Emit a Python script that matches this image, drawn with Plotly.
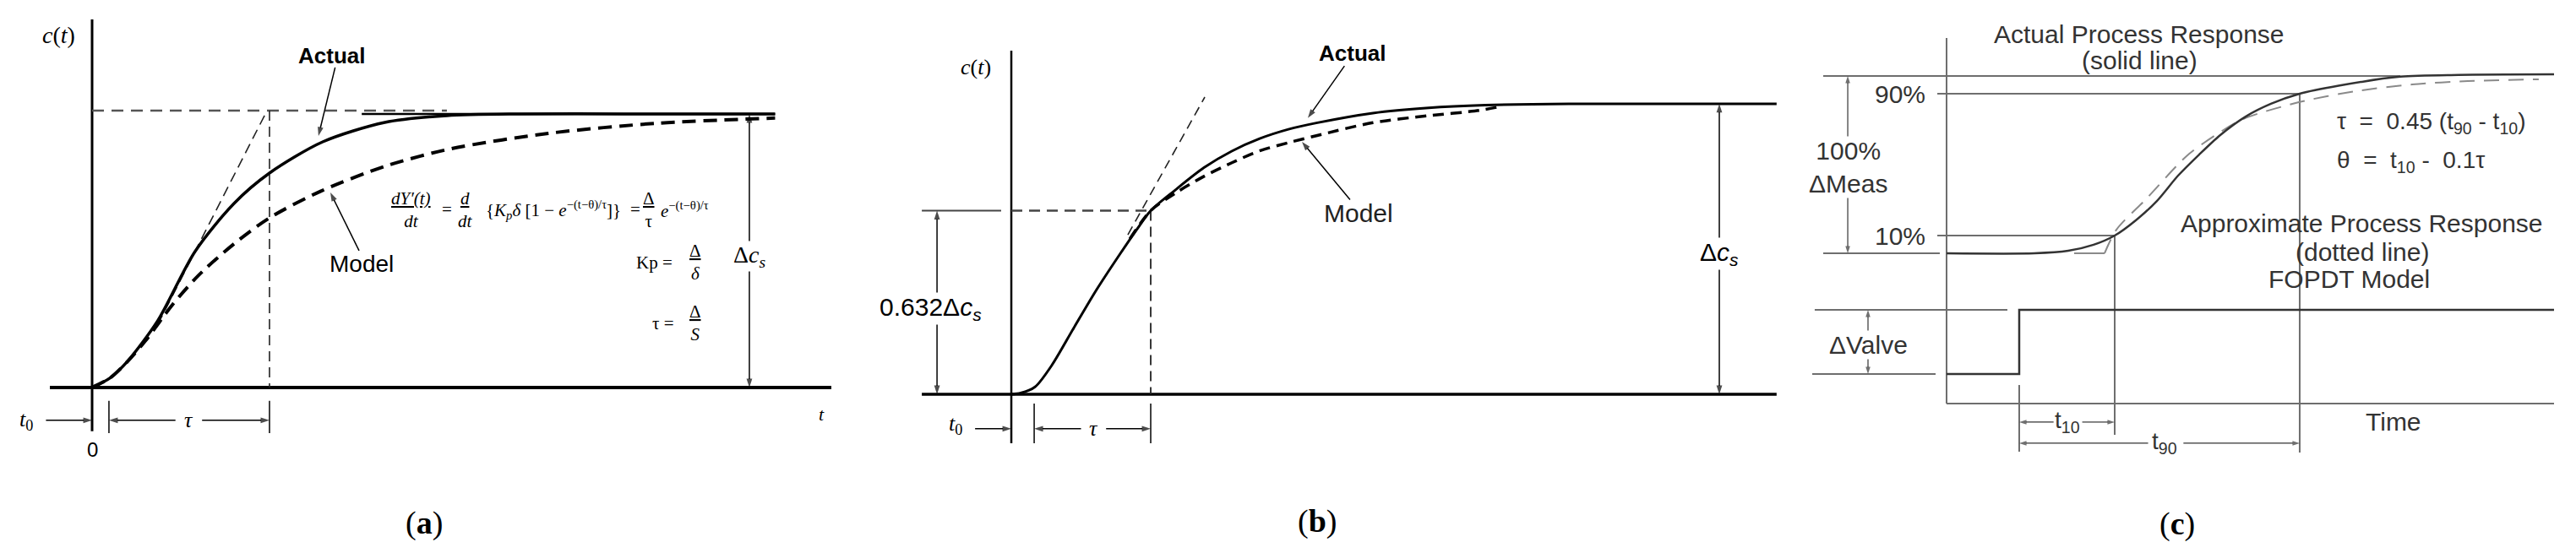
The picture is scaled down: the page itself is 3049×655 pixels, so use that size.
import plotly.graph_objects as go

# ---------------- (a) step response, actual vs model ----------------
a_t = [0, 0.1, 0.2, 0.37, 0.58, 0.8, 1.0, 1.3, 1.65, 2.0, 2.4, 3.0, 3.85]
a_actual = [0, 0.034, 0.096, 0.244, 0.497, 0.673, 0.784, 0.898, 0.969, 0.994, 1.0, 1.0, 1.0]
a_model_t = [0, 0.1, 0.2, 0.3, 0.45, 0.6, 0.8, 1.0, 1.29, 1.657, 2.024, 2.571, 3.181, 3.85]
a_model = [0, 0.034, 0.095, 0.17, 0.3, 0.41, 0.525, 0.62, 0.718, 0.81, 0.873, 0.929, 0.966, 0.985]
a_tangent_t = [0.37, 0.986]
a_tangent = [0.23, 1.012]
a_tau_start = 0.095   # left end of the tau marker
a_tau = 1.0

# ---------------- (b) 63.2 % method ----------------
b_t = [0, 0.067, 0.17, 0.291, 0.448, 0.612, 0.776, 0.9, 1.0, 1.176, 1.382, 1.582,
       1.782, 1.988, 2.188, 2.594, 2.994, 3.4, 4.0, 5.49]
b_actual = [0, 0.004, 0.025, 0.1, 0.228, 0.36, 0.48, 0.567, 0.632, 0.703, 0.78, 0.837,
            0.88, 0.912, 0.934, 0.968, 0.986, 0.995, 1.0, 1.0]
b_model_t = [0.85, 1.0, 1.176, 1.382, 1.582, 1.782, 1.988, 2.188, 2.594, 2.994, 3.358, 3.503]
b_model = [0.535, 0.632, 0.692, 0.750, 0.797, 0.838, 0.866, 0.890, 0.935, 0.959, 0.977, 0.99]
b_tangent_t = [0.836, 1.388]
b_tangent = [0.549, 1.023]
b_level = 0.632
b_tau_start = 0.164
b_tau = 1.0

# ---------------- (c) FOPDT from t10 / t90 ----------------
c_t = [-0.761, 0.159, 0.513, 0.779, 1.0, 1.221, 1.442, 1.664, 1.885, 2.106, 2.372,
       2.637, 2.938, 3.345, 3.99, 4.6, 5.602]
c_actual = [0, 0, 1.4, 4.8, 10, 18.6, 29.5, 43.8, 55.7, 66.7, 77.1, 84.3, 90, 94.5,
            99.6, 100.6, 100.9]
c_dead_t = [0.575, 0.894]          # flat dead-time part of the FOPDT model
c_model_t = [0.894, 1.018, 1.336, 1.752, 2.044, 2.345, 2.929, 3.522, 4.115, 4.699, 5.442]
c_model = [0, 13.3, 31.0, 54.8, 66.2, 75.7, 85.2, 91.4, 95.2, 97.1, 98.1]
valve_t = [-0.761, 0, 0, 5.602]
valve = [0, 0, 1, 1]
c_t10 = 1.0
c_t90 = 2.938
c_levels = [100, 90, 10, 0]

SANS = "Liberation Sans"
SERIF = "Liberation Serif"
GREY = "#6e6e6e"
DARK = "#333333"

fig = go.Figure()


def line(x, y, xa, ya, color="black", width=2, dash="solid", shape="linear"):
    fig.add_trace(go.Scatter(x=x, y=y, xaxis=xa, yaxis=ya, mode="lines",
                             line=dict(color=color, width=width, dash=dash, shape=shape,
                                       smoothing=0.8),
                             hoverinfo="skip", showlegend=False))


def label(text, x, y, xa, ya, size, family=SANS, color="black", bg=None, anchor="center"):
    fig.add_annotation(text=text, x=x, y=y, xref=xa, yref=ya, showarrow=False,
                       font=dict(family=family, size=size, color=color),
                       bgcolor=bg, xanchor=anchor, yanchor="middle", borderpad=0)


def arrow(x, y, tx, ty, xa, ya, color="black", width=1.5, head=11):
    # shaft from the tail (tx, ty) to the tip (x, y), head drawn as a marker at the tip
    fig.add_trace(go.Scatter(x=[tx, x], y=[ty, y], xaxis=xa, yaxis=ya, mode="lines+markers",
                             line=dict(color=color, width=width),
                             marker=dict(symbol="arrow", size=[0, head], color=color,
                                         angleref="previous", line=dict(width=0)),
                             hoverinfo="skip", showlegend=False))


def double_arrow(x, y0, y1, xa, ya, **kw):
    mid = (y0 + y1) / 2
    arrow(x, y0, x, mid, xa, ya, **kw)
    arrow(x, y1, x, mid, xa, ya, **kw)


# ===== panel (a) =====
line([0, 0], [1.346, -0.16], "x", "y", width=3)
line([-0.238, 4.167], [0, 0], "x", "y", width=4)
line([0, 2.0], [1.012, 1.012], "x", "y", color="#555", width=2.5, dash="14px,9px")
line(a_tangent_t, a_tangent, "x", "y", color="#222", width=1.6, dash="12px,7px")
line([a_tau, a_tau], [1.012, 0], "x", "y", color="#222", width=1.6, dash="12px,7px")
line([1.52, 3.85], [1, 1], "x", "y", width=2.5)
line(a_model_t, a_model, "x", "y", width=4, dash="16px,9px", shape="spline")
line(a_t, a_actual, "x", "y", width=3.5, shape="spline")
for xt in (a_tau_start, a_tau):
    line([xt, xt], [-0.049, -0.167], "x", "y", width=1.5)

label("<i>c</i>(<i>t</i>)", -0.19, 1.29, "x", "y", 28, SERIF)
label("<b>Actual</b>", 1.352, 1.213, "x", "y", 26)
arrow(1.276, 0.92, 1.37, 1.17, "x", "y")
label("Model", 1.519, 0.451, "x", "y", 28)
arrow(1.343, 0.713, 1.505, 0.50, "x", "y")
# derivative of the model response, written with stacked fractions
eq_y = 0.651
label("<i><u>dY′(t)</u></i><br><i>dt</i>", 1.80, eq_y, "x", "y", 21, SERIF)
label("=", 2.0, eq_y, "x", "y", 21, SERIF)
label("<i><u>d</u></i><br><i>dt</i>", 2.105, eq_y, "x", "y", 21, SERIF)
label("{<i>K<sub>p</sub>δ</i> [1 − <i>e</i><sup>−(t−θ)/τ</sup>]}", 2.6, eq_y, "x", "y", 21, SERIF)
label("=", 3.06, eq_y, "x", "y", 21, SERIF)
label("<u>Δ</u><br>τ", 3.14, eq_y, "x", "y", 21, SERIF)
label("<i>e</i><sup>−(t−θ)/τ</sup>", 3.34, eq_y, "x", "y", 21, SERIF)
label("Kp =", 3.17, 0.457, "x", "y", 21, SERIF)
label("<u>Δ</u><br><i>δ</i>", 3.4, 0.457, "x", "y", 21, SERIF)
label("τ =", 3.22, 0.235, "x", "y", 21, SERIF)
label("<u>Δ</u><br><i>S</i>", 3.4, 0.235, "x", "y", 21, SERIF)
double_arrow(3.705, 1.0, 0.0, "x", "y")
label("Δ<i>c<sub>s</sub></i>", 3.705, 0.481, "x", "y", 28, SERIF, bg="white")
label("<i>t</i>", 4.11, -0.096, "x", "y", 22, SERIF)
label("<i>t</i><sub>0</sub>", -0.37, -0.12, "x", "y", 26, SERIF)
arrow(0, -0.12, -0.26, -0.12, "x", "y")
label("<i>τ</i>", 0.543, -0.12, "x", "y", 26, SERIF)
arrow(a_tau_start, -0.12, 0.47, -0.12, "x", "y")
arrow(a_tau, -0.12, 0.62, -0.12, "x", "y")
label("0", 0, -0.228, "x", "y", 24)
label("(<b>a</b>)", 1.871, -0.497, "x", "y", 38, SERIF)

# ===== panel (b) =====
line([0, 0], [1.183, -0.169], "x2", "y2", width=2.5)
line([-0.642, 5.49], [0, 0], "x2", "y2", width=3.5)
line([-0.642, -0.073], [b_level, b_level], "x2", "y2", color="#444", width=2)
line([0, b_tau], [b_level, b_level], "x2", "y2", color="#444", width=2.5, dash="13px,8px")
line([b_tau, b_tau], [b_level, 0], "x2", "y2", color="#222", width=1.8, dash="12px,7px")
line(b_tangent_t, b_tangent, "x2", "y2", color="#222", width=1.6, dash="11px,7px")
line(b_model_t, b_model, "x2", "y2", width=3.5, dash="13px,8px", shape="spline")
line(b_t, b_actual, "x2", "y2", width=3, shape="spline")
for xt in (b_tau_start, b_tau):
    line([xt, xt], [-0.032, -0.169], "x2", "y2", width=1.5)

label("<i>c</i>(<i>t</i>)", -0.255, 1.125, "x2", "y2", 26, SERIF)
label("<b>Actual</b>", 2.448, 1.174, "x2", "y2", 26)
arrow(2.127, 0.951, 2.39, 1.13, "x2", "y2")
label("Model", 2.491, 0.622, "x2", "y2", 30, SANS, color="#222")
arrow(2.085, 0.869, 2.43, 0.67, "x2", "y2")
double_arrow(-0.533, b_level, 0, "x2", "y2")
label("0.632Δ<i>c<sub>s</sub></i>", -0.576, 0.294, "x2", "y2", 30, SANS, bg="white")
double_arrow(5.079, 1.0, 0.0, "x2", "y2")
label("Δ<i>c<sub>s</sub></i>", 5.079, 0.483, "x2", "y2", 30, SANS, bg="white")
label("<i>t</i><sub>0</sub>", -0.4, -0.105, "x2", "y2", 26, SERIF)
arrow(0, -0.119, -0.26, -0.119, "x2", "y2")
label("<i>τ</i>", 0.588, -0.119, "x2", "y2", 26, SERIF)
arrow(b_tau_start, -0.119, 0.5, -0.119, "x2", "y2")
arrow(b_tau, -0.119, 0.68, -0.119, "x2", "y2")
label("(<b>b</b>)", 2.194, -0.439, "x2", "y2", 38, SERIF)

# ===== panel (c) =====
line([-0.761, -0.761], [121.4, -84.8], "x3", "y3", color=GREY, width=2)
line([-0.761, 5.602], [-84.8, -84.8], "x3", "y3", color=GREY, width=2)
line([-2.053, 3.991], [c_levels[0]] * 2, "x3", "y3", color=GREY, width=2)
line([-0.858, c_t90], [c_levels[1]] * 2, "x3", "y3", color=GREY, width=2)
line([-0.858, c_t10], [c_levels[2]] * 2, "x3", "y3", color=GREY, width=2)
line([-2.053, -0.832], [c_levels[3]] * 2, "x3", "y3", color=GREY, width=2)
line([c_t10, c_t10], [c_levels[2], -102.4], "x3", "y3", color=GREY, width=2)
line([c_t90, c_t90], [c_levels[1], -112.4], "x3", "y3", color=GREY, width=2)
line([0, 0], [-74.3, -111.9], "x3", "y3", color=GREY, width=2)
line([-2.142, -0.124], [1, 1], "x3", "y4", color=GREY, width=2)
line([-2.168, -0.876], [0, 0], "x3", "y4", color=GREY, width=2)
line(valve_t, valve, "x3", "y4", color=DARK, width=2.5)
line(c_dead_t, [0, 0], "x3", "y3", color="#8a8a8a", width=2)
line(c_model_t, c_model, "x3", "y3", color="#8a8a8a", width=2, dash="18px,11px", shape="spline")
line(c_t, c_actual, "x3", "y3", color=DARK, width=2.5, shape="spline")

label("Actual Process Response", 1.257, 123.8, "x3", "y3", 30, SANS, DARK)
label("(solid line)", 1.257, 109, "x3", "y3", 30, SANS, DARK)
label("90%", -0.973, 90, "x3", "y3", 30, SANS, DARK, anchor="right")
label("10%", -0.973, 10, "x3", "y3", 30, SANS, DARK, anchor="right")
double_arrow(-1.796, 100, 0, "x3", "y3", color=DARK, width=1.2, head=9)
label("100%<br>ΔMeas", -1.796, 48.6, "x3", "y3", 30, SANS, DARK, bg="white")
double_arrow(-1.584, 1, 0, "x3", "y4", color=DARK, width=1.2, head=9)
label("ΔValve", -1.584, 0.46, "x3", "y4", 30, SANS, DARK, bg="white")
label("τ  =  0.45 (t<sub>90</sub> - t<sub>10</sub>)", 3.319, 73.8, "x3", "y3", 28, SANS, DARK, anchor="left")
label("θ  =  t<sub>10</sub> -  0.1τ", 3.319, 51.9, "x3", "y3", 28, SANS, DARK, anchor="left")
label("Approximate Process Response", 3.593, 16.7, "x3", "y3", 30, SANS, DARK)
label("(dotted line)", 3.593, 0.95, "x3", "y3", 30, SANS, DARK)
label("FOPDT Model", 3.46, -14.3, "x3", "y3", 30, SANS, DARK)
label("Time", 3.92, -95.2, "x3", "y3", 30, SANS, DARK)
label("t<sub>10</sub>", 0.504, -95.2, "x3", "y3", 28, SANS, DARK)
arrow(0, -95.2, 0.36, -95.2, "x3", "y3", color=DARK, width=1.2, head=9)
arrow(c_t10, -95.2, 0.66, -95.2, "x3", "y3", color=DARK, width=1.2, head=9)
label("t<sub>90</sub>", 1.522, -107.1, "x3", "y3", 28, SANS, DARK)
arrow(0, -107.1, 1.35, -107.1, "x3", "y3", color=DARK, width=1.2, head=9)
arrow(c_t90, -107.1, 1.72, -107.1, "x3", "y3", color=DARK, width=1.2, head=9)
label("(<b>c</b>)", 1.655, -152.4, "x3", "y3", 38, SERIF)

hidden = dict(visible=False, fixedrange=True, showgrid=False, zeroline=False)
fig.update_layout(
    width=3049, height=655, autosize=False,
    margin=dict(l=0, r=0, t=0, b=0),
    paper_bgcolor="white", plot_bgcolor="white",
    xaxis=dict(domain=[0, 1010 / 3049], range=[-0.481, 4.329], anchor="y", **hidden),
    yaxis=dict(domain=[0, 1], range=[-0.630, 1.392], anchor="x", **hidden),
    xaxis2=dict(domain=[1010 / 3049, 2110 / 3049], range=[-1.085, 5.582], anchor="y2", **hidden),
    yaxis2=dict(domain=[0, 1], range=[-0.570, 1.334], anchor="x2", **hidden),
    xaxis3=dict(domain=[2110 / 3049, 1], range=[-2.407, 5.903], anchor="y3", **hidden),
    yaxis3=dict(domain=[0, 1], range=[-172.86, 139.05], anchor="x3", **hidden),
    yaxis4=dict(range=[-2.895, 5.724], overlaying="y3", anchor="x3", **hidden),
)

fig.write_html("out.html")
